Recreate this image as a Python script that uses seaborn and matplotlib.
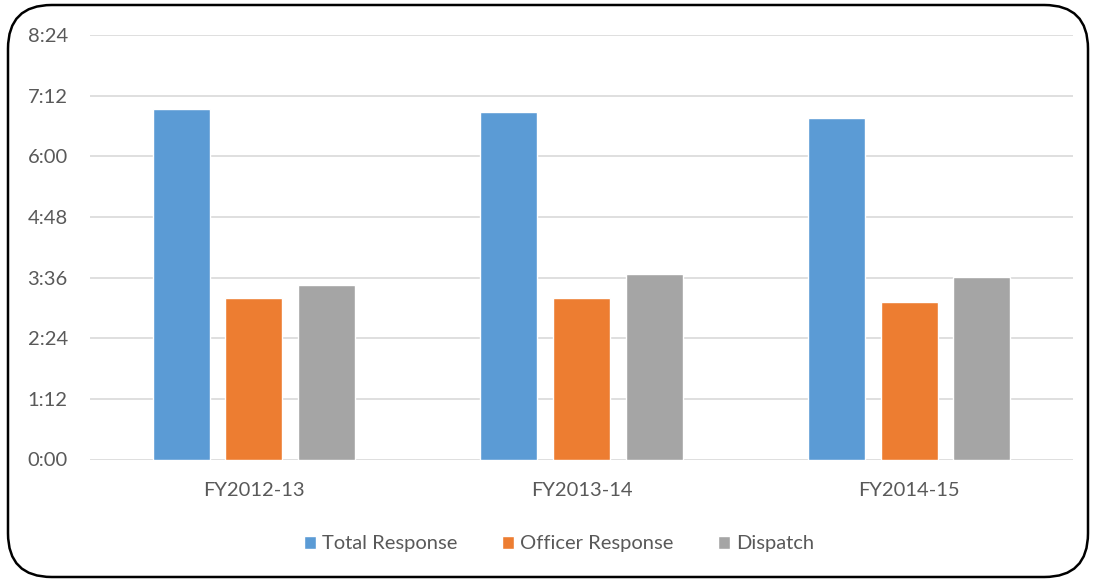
import pandas as pd
import matplotlib.pyplot as plt
import seaborn as sns
from matplotlib.patches import FancyBboxPatch
from matplotlib.ticker import FuncFormatter

# Response times in seconds
years = ["FY2012-13", "FY2013-14", "FY2014-15"]
total_response = [416, 412, 405]
officer_response = [192, 192, 187]
dispatch = [207, 220, 217]
series = ["Total Response", "Officer Response", "Dispatch"]
colors = ["#5b9bd5", "#ed7d31", "#a5a5a5"]

df = pd.DataFrame({
    "Year": years * 3,
    "Series": [s for s in series for _ in years],
    "Seconds": total_response + officer_response + dispatch,
})

sns.set_style("white")
plt.rcParams['font.family'] = ['Lato', 'DejaVu Sans']

fig = plt.figure(figsize=(10.93, 5.8), dpi=100)
ax = fig.add_axes([90 / 1093, 1 - 459.5 / 580, 983 / 1093, 424.5 / 580])

sns.barplot(data=df, x="Year", y="Seconds", hue="Series", order=years,
            hue_order=series, palette=colors, width=0.664, gap=0.214,
            saturation=1, ax=ax, legend=True)

ax.set_ylim(0, 504)
ax.set_yticks(range(0, 505, 72))
ax.yaxis.set_major_formatter(FuncFormatter(lambda v, p: f"{int(v) // 60}:{int(v) % 60:02d}"))
ax.grid(axis='y', color='#d9d9d9', lw=1.2)
ax.set_axisbelow(True)
for s in ax.spines.values():
    s.set_visible(False)
ax.set_xlabel("")
ax.set_ylabel("")
ax.tick_params(axis='both', length=0, labelsize=14.5, labelcolor='#595959')
ax.tick_params(axis='y', pad=16)
ax.tick_params(axis='x', pad=16)

handles, labels = ax.get_legend_handles_labels()
ax.legend_.remove()
fig.legend(handles, labels, loc='center', bbox_to_anchor=(559 / 1093, 1 - 544 / 580),
           ncol=3, frameon=False, fontsize=14.5, labelcolor='#595959',
           handlelength=0.6, handleheight=0.6, handletextpad=0.3, columnspacing=2.2)

# rounded chart border
border = FancyBboxPatch((8 / 1093, 3 / 580), 1080 / 1093, 572 / 580,
                        boxstyle="round,pad=0,rounding_size=0.04",
                        transform=fig.transFigure, fill=False, ec='black', lw=1.8,
                        mutation_aspect=1093 / 580)
fig.patches.append(border)

fig.savefig("out.png", dpi=100)
